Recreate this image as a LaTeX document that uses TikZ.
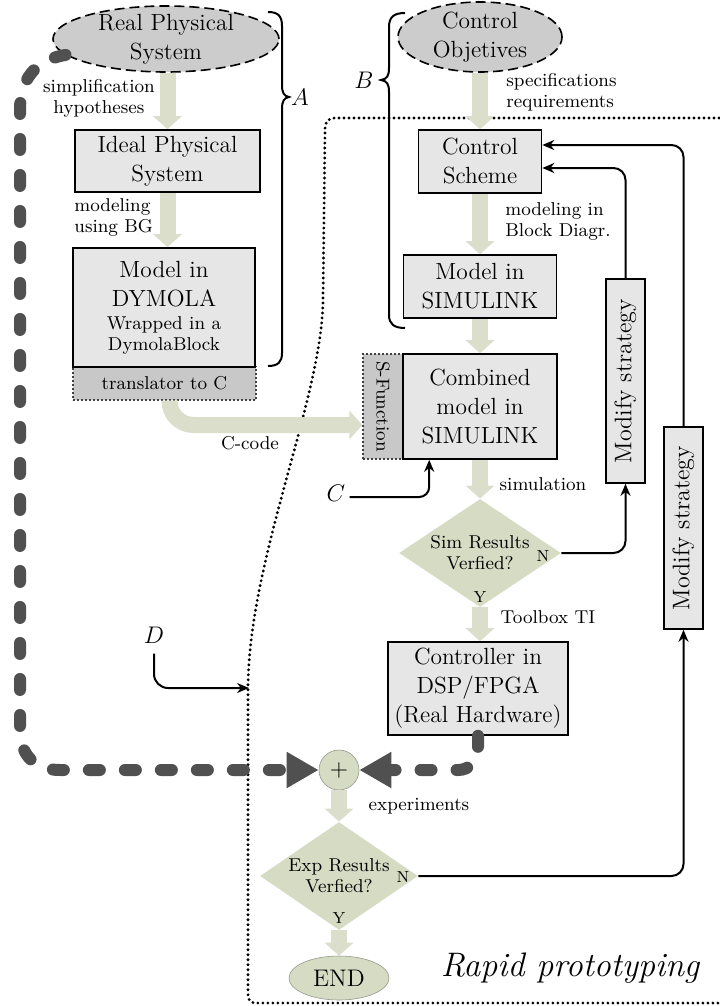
\documentclass[tikz,border=0pt]{standalone}
\usetikzlibrary{arrows.meta,shapes.geometric,calc}
\definecolor{boxgray}{RGB}{230,230,230}
\definecolor{darkfill}{RGB}{200,200,200}
\definecolor{ellgray}{RGB}{204,204,204}
\definecolor{sage}{RGB}{214,219,196}
\definecolor{sagearrow}{RGB}{218,222,202}
\definecolor{dashgray}{RGB}{80,80,80}
\tikzset{
  bigtxt/.style={font=\fontsize{11.7}{14.5}\selectfont, align=center},
  smalltxt/.style={font=\fontsize{9.3}{10.5}\selectfont, align=center, inner sep=0pt},
  lbl/.style={font=\fontsize{9.3}{10.5}\selectfont, align=left, inner sep=0pt},
  yn/.style={font=\fontsize{8}{9}\selectfont, inner sep=0pt},
  letter/.style={font=\fontsize{11.5}{13}\selectfont, inner sep=0pt},
  box/.style={draw, line width=0.8pt, fill=boxgray, inner sep=0pt, bigtxt},
  darkbox/.style={draw=black!75, line width=0.6pt, dash pattern=on 1.2pt off 0.8pt, fill=darkfill, inner sep=0pt},
  ellbox/.style={ellipse, draw, line width=0.8pt, dash pattern=on 5pt off 2.5pt, fill=ellgray, inner sep=0pt},
  diam/.style={diamond, fill=sage, inner sep=0pt},
  endbox/.style={ellipse, fill=sage, draw=sage!70!black, line width=0.3pt, inner sep=0pt},
  msbox/.style={draw, line width=0.8pt, fill=boxgray, inner sep=0pt, minimum width=19.5pt},
  flow/.style={draw=sagearrow, line width=8pt, -{Triangle[length=6.5pt,width=14pt]}},
  fb/.style={line width=1pt, -{Stealth[length=6pt,width=5pt]}, rounded corners=6pt},
  bigdash/.style={draw=dashgray, line width=6pt, line cap=round, dash pattern=on 5.5pt off 12.5pt, -{Triangle[length=16pt,width=17pt]}},
  rapid/.style={line width=1.6pt, line cap=round, dash pattern=on 0pt off 2.5pt},
  bracestyle/.style={line width=1pt}
}
\begin{document}
\begin{tikzpicture}[x=0.5pt,y=-0.5pt]
\useasboundingbox (0,0) rectangle (719,1006);

% rapid prototyping region
\draw[rapid] (719,118) -- (336,118) .. controls (328,118) and (325,121) .. (325,130)
  -- (323,300) .. controls (322,400) and (248,560) .. (248,690) -- (248,994)
  .. controls (248,1000) and (250,1003) .. (256,1003) -- (719,1003);

% left column
\node[ellbox, minimum width=113pt, minimum height=33pt,
      label={[bigtxt]center:Real Physical\\System}] (rps) at (166,39) {};
\node[box, minimum width=92.5pt, minimum height=31pt] (ideal) at (167.5,161) {Ideal Physical\\System};
\node[darkbox, minimum width=91.5pt, minimum height=16.5pt] (trans) at (164.5,383.5) {};
\node[smalltxt] (transT) at (trans) {translator to C};
\node[box, minimum width=91pt, minimum height=59.5pt] (dym) at (164,307.5) {};
\node[bigtxt, inner sep=0pt] (dymT) at (164,284) {Model in\\DYMOLA};
\node[smalltxt] (dymS) at (164,335.5) {Wrapped in a\\DymolaBlock};

% right column
\node[ellbox, minimum width=82pt, minimum height=35pt,
      label={[bigtxt]center:Control\\Objetives}] (co) at (480,37) {};
\node[box, minimum width=61.5pt, minimum height=31.5pt] (cs) at (480,161.5) {Control\\Scheme};
\node[box, minimum width=76.5pt, minimum height=31.5pt] (msim) at (480,286.5) {Model in\\SIMULINK};
\node[darkbox, minimum width=20pt, minimum height=52.5pt,
      label={[smalltxt, rotate=-90]center:S-Function}] (sfun) at (383,406.5) {};
\node[box, minimum width=77pt, minimum height=52.5pt] (comb) at (480,406.5) {Combined\\model in\\SIMULINK};
\node[diam, minimum width=81pt, minimum height=54pt,
      label={[smalltxt]center:Sim Results\\Verfied?}] (sim) at (480,553) {};
\node[yn] (simN) at (543,556) {N};
\node[yn] (simY) at (480,597) {Y};
\node[box, minimum width=90pt, minimum height=46.5pt] (ctrl) at (478,688.5) {Controller in\\DSP/FPGA\\(Real Hardware)};

\node[circle, fill=sage, draw=sage!70!black, line width=0.3pt, minimum size=20pt, inner sep=0pt,
      font=\fontsize{13}{14}\selectfont] (sum) at (339,770) {$+$};
\node[diam, minimum width=79pt, minimum height=54pt,
      label={[smalltxt]center:Exp Results\\Verfied?}] (exp) at (339,876) {};
\node[yn] (expN) at (403,877) {N};
\node[yn] (expY) at (339,918) {Y};
\node[endbox, minimum width=50pt, minimum height=22pt, font=\fontsize{12}{14}\selectfont] (end) at (339,978) {END};

\node[msbox, minimum height=102pt,
      label={[rotate=90, font=\fontsize{12}{14}\selectfont]center:Modify strategy}] (ms1) at (625.5,381) {};
\node[msbox, minimum height=101pt,
      label={[rotate=90, font=\fontsize{12}{14}\selectfont]center:Modify strategy}] (ms2) at (683.5,528) {};

% flow arrows
\draw[flow] (ideal.north |- rps.south) -- (ideal.north);
\draw[flow] (ideal.south) -- (ideal.south |- dym.north);
\draw[flow] (co.south) -- (cs.north);
\draw[flow] (cs.south) -- (msim.north);
\draw[flow] (msim.south) -- (comb.north);
\draw[flow] (comb.south) -- (sim.north);
\draw[flow] (sim.south) -- (sim.south |- ctrl.north);
\draw[flow] (sum.south) -- (exp.north);
\draw[flow] (exp.south) -- (end.north);
\draw[flow, rounded corners=12pt] ($(trans.south)+(5,0)$) |- ($(sfun.west)+(0,18.5)$);

% labels
\node[smalltxt] (simp) at (99,98.5) {simplification\\hypotheses};
\node[lbl, anchor=west] (modbg) at (74,217.5) {modeling\\using BG};
\node[lbl, anchor=west] (spec) at (506,92.5) {specifications\\requirements};
\node[lbl, anchor=west] (modbd) at (505,221) {modeling in\\Block Diagr.};
\node[smalltxt] (simu) at (543,484) {simulation};
\node[smalltxt] (tool) at (548,617) {Toolbox TI};
\node[smalltxt] (expe) at (419,806) {experiments};
\node[smalltxt] (ccode) at (250,443) {C-code};

% feedback
\draw[fb] (ms1.north) |- ($(cs.east)+(0,6.5)$);
\draw[fb] (ms2.north) |- ($(cs.east)+(0,-16.5)$);
\draw[fb] (sim.east) -| (ms1.south);
\draw[fb] (exp.east) -| (ms2.south);

% C and D
\node[letter] (clab) at (336,493) {$C$};
\draw[fb, rounded corners=5pt] ($(clab.east)+(4,4)$) -| ($(comb.south west)+(27,0)$);
\node[letter] (dlab) at (154,635) {$D$};
\coordinate (dtgt) at (249,688);
\draw[fb, rounded corners=7pt] ($(dlab.south)+(0,10)$) |- (dtgt);

% braces
\draw[bracestyle] (268,12) .. controls (278,12) and (282,16) .. (282,26) -- (282,85)
  .. controls (282,93) and (284,96) .. (289,97) .. controls (284,98) and (282,101) .. (282,109)
  -- (282,353) .. controls (282,362) and (278,366) .. (268,366);
\node[letter] (alab) at (300,97) {$A$};
\draw[bracestyle] (405,13) .. controls (394,13) and (389,17) .. (389,27) -- (389,68)
  .. controls (389,76) and (387,79) .. (381,80) .. controls (387,81) and (389,84) .. (389,92)
  -- (389,315) .. controls (389,324) and (394,328) .. (405,328);
\node[letter] (blab) at (364,80) {$B$};

% dashed measurement paths
\draw[bigdash] (rps.189) .. controls (35,60) and (20,80) .. (20,110) -- (20,730)
  .. controls (20,755) and (35,770) .. (60,770) -- (sum.west);
\draw[bigdash, rounded corners=10pt] (ctrl.south) |- (sum.east);

\node[font=\fontsize{17}{20}\selectfont\itshape, inner sep=0pt] (rapidlab) at (570,968) {Rapid prototyping};
\end{tikzpicture}
\end{document}
